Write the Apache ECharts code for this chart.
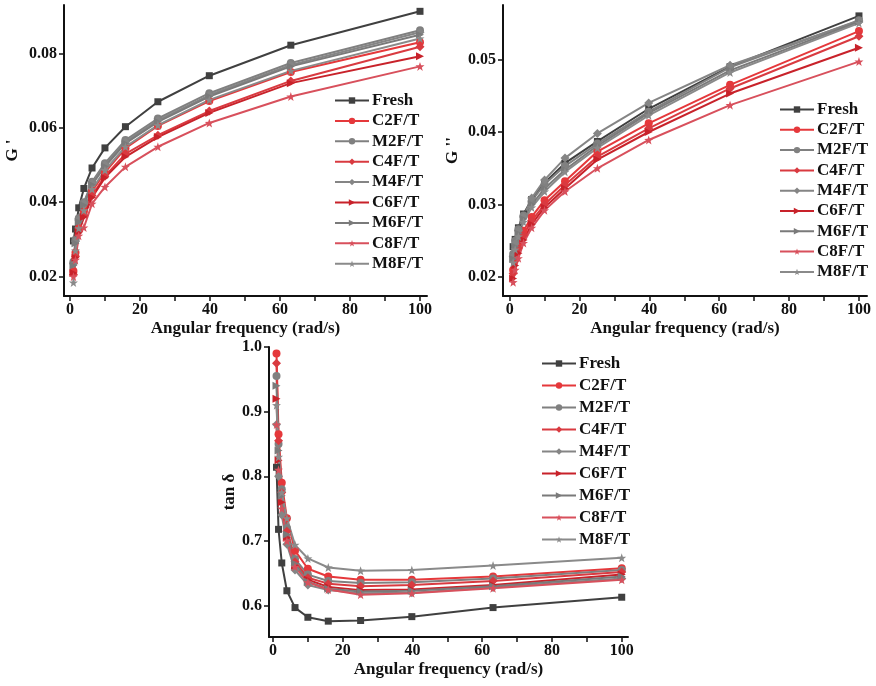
<!DOCTYPE html>
<html>
<head>
<meta charset="utf-8">
<script src="https://cdn.jsdelivr.net/npm/echarts@6/dist/echarts.min.js"></script>
<style>
  html, body { margin: 0; padding: 0; background: #fff; }
  #chart { width: 876px; height: 686px; }
</style>
</head>
<body>
<div id="chart"></div>
<script>
// angular frequency (rad/s), log spaced
const freq = [1, 1.585, 2.512, 3.981, 6.31, 10, 15.85, 25.12, 39.81, 63.1, 100];
const names = ['Fresh', 'C2F/T', 'M2F/T', 'C4F/T', 'M4F/T', 'C6F/T', 'M6F/T', 'C8F/T', 'M8F/T'];

// G'
const gp_fresh = [0.0296, 0.0328, 0.0385, 0.0437, 0.0492, 0.0546, 0.0603, 0.0670, 0.0740, 0.0822, 0.0913];
const gp_c2 = [0.0215, 0.0265, 0.0330, 0.0375, 0.0430, 0.0480, 0.0545, 0.0605, 0.0672, 0.0750, 0.0830];
const gp_m2 = [0.0240, 0.0300, 0.0357, 0.0400, 0.0455, 0.0505, 0.0567, 0.0625, 0.0693, 0.0774, 0.0862];
const gp_c4 = [0.0206, 0.0255, 0.0322, 0.0365, 0.0418, 0.0470, 0.0530, 0.0580, 0.0645, 0.0726, 0.0818];
const gp_m4 = [0.0235, 0.0295, 0.0352, 0.0396, 0.0451, 0.0500, 0.0562, 0.0620, 0.0688, 0.0769, 0.0857];
const gp_c6 = [0.0210, 0.0251, 0.0318, 0.0360, 0.0413, 0.0466, 0.0522, 0.0575, 0.0640, 0.0720, 0.0792];
const gp_m6 = [0.0230, 0.0290, 0.0347, 0.0392, 0.0447, 0.0496, 0.0558, 0.0616, 0.0684, 0.0765, 0.0850];
const gp_c8 = [0.0200, 0.0245, 0.0310, 0.0332, 0.0396, 0.0441, 0.0495, 0.0549, 0.0613, 0.0684, 0.0765];
const gp_m8 = [0.0184, 0.0270, 0.0330, 0.0378, 0.0435, 0.0486, 0.0549, 0.0607, 0.0675, 0.0753, 0.0840];

// G''
const gpp_fresh = [0.0242, 0.0252, 0.0268, 0.0287, 0.0307, 0.0330, 0.0357, 0.0387, 0.0432, 0.0490, 0.0560];
const gpp_c2 = [0.0210, 0.0228, 0.0245, 0.0264, 0.0283, 0.0306, 0.0332, 0.0373, 0.0412, 0.0465, 0.0539];
const gpp_m2 = [0.0232, 0.0250, 0.0266, 0.0285, 0.0305, 0.0328, 0.0353, 0.0384, 0.0428, 0.0489, 0.0554];
const gpp_c4 = [0.0205, 0.0223, 0.0240, 0.0258, 0.0278, 0.0300, 0.0327, 0.0366, 0.0405, 0.0460, 0.0532];
const gpp_m4 = [0.0228, 0.0246, 0.0264, 0.0283, 0.0309, 0.0334, 0.0364, 0.0398, 0.0440, 0.0492, 0.0553];
const gpp_c6 = [0.0198, 0.0216, 0.0233, 0.0251, 0.0273, 0.0296, 0.0322, 0.0362, 0.0400, 0.0453, 0.0516];
const gpp_m6 = [0.0225, 0.0242, 0.0260, 0.0280, 0.0300, 0.0322, 0.0348, 0.0381, 0.0426, 0.0485, 0.0552];
const gpp_c8 = [0.0193, 0.0210, 0.0226, 0.0247, 0.0268, 0.0292, 0.0318, 0.0350, 0.0389, 0.0437, 0.0497];
const gpp_m8 = [0.0220, 0.0238, 0.0256, 0.0276, 0.0296, 0.0318, 0.0345, 0.0378, 0.0423, 0.0482, 0.0550];

// tan delta
const tan_fresh = [0.814, 0.718, 0.666, 0.623, 0.597, 0.582, 0.576, 0.577, 0.583, 0.597, 0.613];
const tan_c2 = [0.990, 0.865, 0.790, 0.735, 0.685, 0.657, 0.645, 0.640, 0.640, 0.645, 0.658];
const tan_m2 = [0.955, 0.850, 0.780, 0.720, 0.672, 0.648, 0.638, 0.635, 0.636, 0.642, 0.655];
const tan_c4 = [0.975, 0.855, 0.775, 0.715, 0.668, 0.643, 0.634, 0.630, 0.632, 0.638, 0.652];
const tan_m4 = [0.880, 0.800, 0.740, 0.695, 0.655, 0.632, 0.624, 0.619, 0.620, 0.628, 0.642];
const tan_c6 = [0.920, 0.825, 0.760, 0.705, 0.662, 0.640, 0.629, 0.624, 0.625, 0.632, 0.648];
const tan_m6 = [0.940, 0.840, 0.770, 0.710, 0.665, 0.637, 0.626, 0.622, 0.623, 0.630, 0.645];
const tan_c8 = [0.880, 0.810, 0.750, 0.700, 0.660, 0.636, 0.625, 0.617, 0.619, 0.627, 0.640];
const tan_m8 = [0.910, 0.830, 0.775, 0.735, 0.694, 0.673, 0.659, 0.654, 0.655, 0.662, 0.674];

const xTicks = [0, 10, 20, 30, 40, 50, 60, 70, 80, 90, 100];
const xLabels = [0, 20, 40, 60, 80, 100];
const gpTicks = [0.02, 0.04, 0.06, 0.08];
const gppTicks = [0.02, 0.03, 0.04, 0.05];
const tanTicks = [0.6, 0.7, 0.8, 0.9, 1.0];

const STAR = 'path://M0,-10L2.35,-3.24L9.51,-3.09L3.8,1.24L5.88,8.09L0,4L-5.88,8.09L-3.8,1.24L-9.51,-3.09L-2.35,-3.24Z';
const RTRI = 'path://M0,0L10,5L0,10Z';

const look = {
  'Fresh': { color: '#404040', symbol: 'rect', size: 7 },
  'C2F/T': { color: '#e5383b', symbol: 'circle', size: 8 },
  'M2F/T': { color: '#808080', symbol: 'circle', size: 8 },
  'C4F/T': { color: '#d93a40', symbol: 'diamond', size: 9 },
  'M4F/T': { color: '#858585', symbol: 'diamond', size: 9 },
  'C6F/T': { color: '#c8222a', symbol: RTRI, size: 8 },
  'M6F/T': { color: '#7a7a7a', symbol: RTRI, size: 8 },
  'C8F/T': { color: '#d8505c', symbol: STAR, size: 9 },
  'M8F/T': { color: '#8a8a8a', symbol: STAR, size: 9 }
};

const gpData = [gp_fresh, gp_c2, gp_m2, gp_c4, gp_m4, gp_c6, gp_m6, gp_c8, gp_m8];
const gppData = [gpp_fresh, gpp_c2, gpp_m2, gpp_c4, gpp_m4, gpp_c6, gpp_m6, gpp_c8, gpp_m8];
const tanData = [tan_fresh, tan_c2, tan_m2, tan_c4, tan_m4, tan_c6, tan_m6, tan_c8, tan_m8];

const FONT = 'Liberation Serif';
const txt = { fontFamily: FONT, fontWeight: 'bold', fontSize: 16, color: '#111' };

function makeSeries(name, vals, idx) {
  const s = look[name];
  return {
    name: name,
    type: 'line',
    xAxisIndex: idx,
    yAxisIndex: idx,
    data: freq.map((f, i) => [f, vals[i]]),
    symbol: s.symbol,
    symbolSize: s.size,
    showAllSymbol: true,
    lineStyle: { color: s.color, width: 2 },
    itemStyle: { color: s.color },
    emphasis: { disabled: true }
  };
}

function xAxis(idx, min, max) {
  return {
    type: 'value', gridIndex: idx, min: min, max: max,
    name: 'Angular frequency (rad/s)', nameLocation: 'middle', nameGap: 24,
    nameTextStyle: Object.assign({}, txt, { fontSize: 17 }),
    axisLine: { show: true, onZero: false, lineStyle: { color: '#111', width: 2 } },
    axisTick: { show: true, customValues: xTicks, length: 5, lineStyle: { color: '#111', width: 1.5 } },
    axisLabel: Object.assign({ customValues: xLabels, margin: 6 }, txt),
    splitLine: { show: false }
  };
}

function yAxis(idx, min, max, ticks, name, gap, fmt) {
  return {
    type: 'value', gridIndex: idx, min: min, max: max,
    name: name, nameLocation: 'middle', nameGap: gap, nameRotate: 90,
    nameTextStyle: Object.assign({}, txt, { fontSize: 17 }),
    axisLine: { show: true, onZero: false, lineStyle: { color: '#111', width: 2 } },
    axisTick: { show: true, customValues: ticks, length: 5, lineStyle: { color: '#111', width: 1.5 } },
    axisLabel: Object.assign({ customValues: ticks, margin: 7, formatter: v => v.toFixed(fmt) }, txt),
    splitLine: { show: false }
  };
}

function legend(left, top, gap) {
  return {
    orient: 'vertical', left: left, top: top,
    data: names, itemWidth: 34, itemHeight: 8, itemGap: gap,
    textStyle: Object.assign({ lineHeight: 16, padding: [0, 0, 0, -2] }, txt, { fontSize: 17 }),
    selectedMode: false
  };
}

const series = [];
names.forEach((n, i) => {
  series.push(makeSeries(n, gpData[i], 0));
  series.push(makeSeries(n, gppData[i], 1));
  series.push(makeSeries(n, tanData[i], 2));
});

const chart = echarts.init(document.getElementById('chart'));
chart.setOption({
  animation: false,
  backgroundColor: '#fff',
  grid: [
    { left: 64, right: 449, top: 5, bottom: 390 },
    { left: 503, right: 9, top: 5, bottom: 390 },
    { left: 269, right: 248, top: 347, bottom: 49 }
  ],
  xAxis: [xAxis(0, -1.7, 102), xAxis(1, -1.9, 102.3), xAxis(2, -1.15, 101.8)],
  yAxis: [
    yAxis(0, 0.0148, 0.093, gpTicks, "G '", 43, 2),
    yAxis(1, 0.0174, 0.0575, gppTicks, "G ''", 42, 2),
    yAxis(2, 0.5515, 1.0, tanTicks, 'tan δ', 31, 1)
  ],
  legend: [legend(329, 87, 3.4), legend(774, 96, 3.3), legend(536, 350, 5.0)],
  series: series
});
</script>
</body>
</html>
